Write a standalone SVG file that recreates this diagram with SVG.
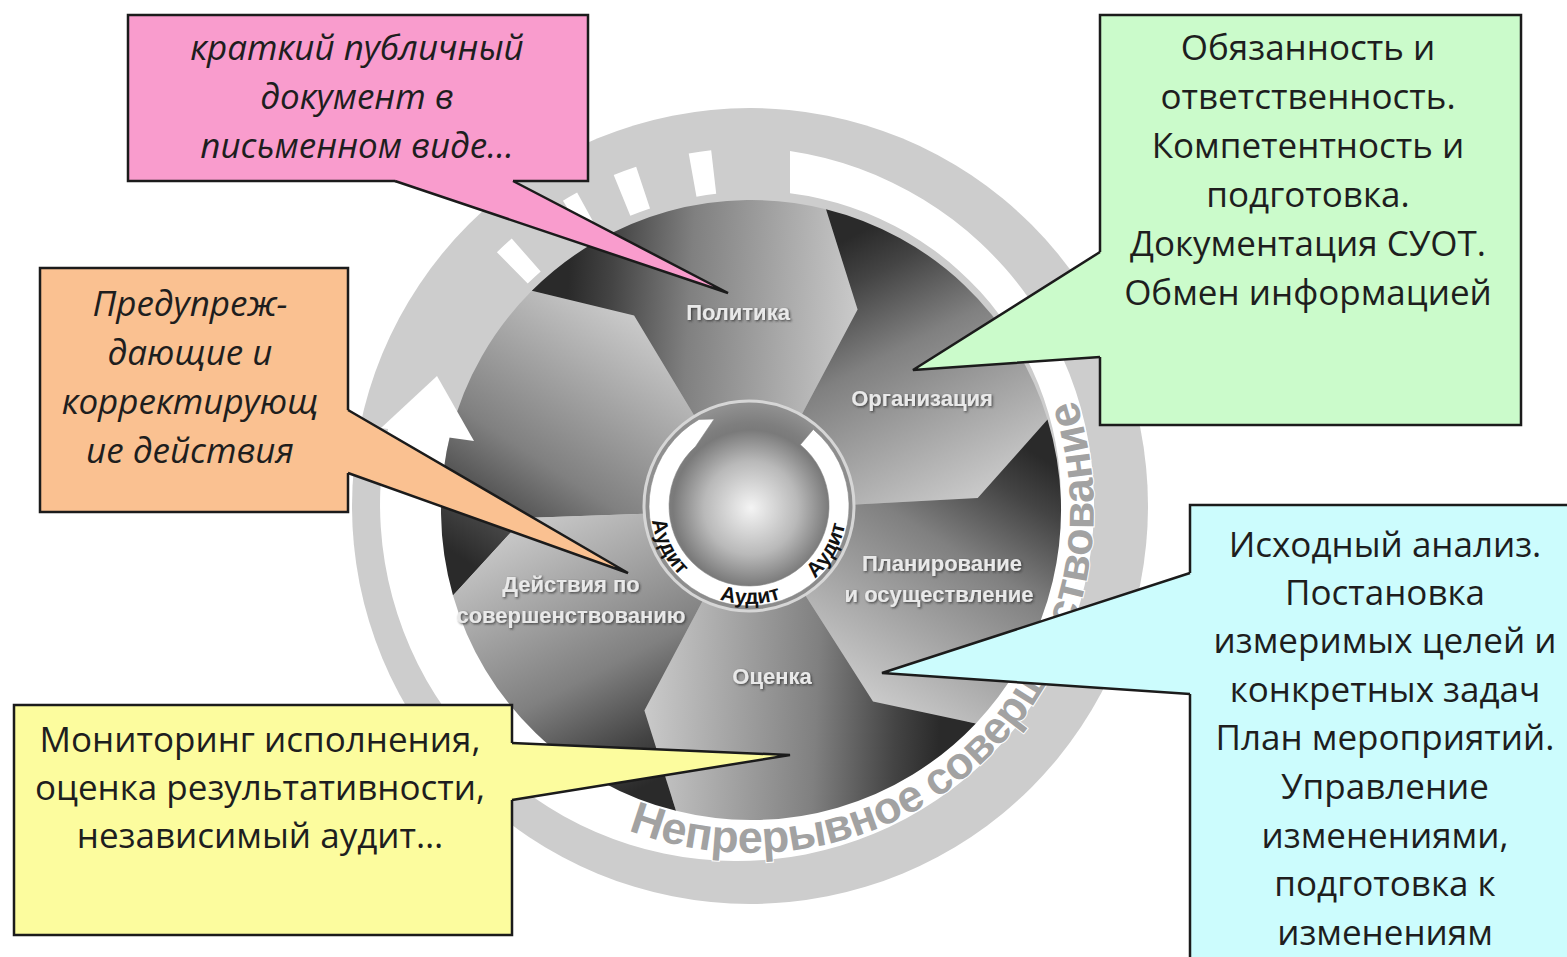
<svg xmlns="http://www.w3.org/2000/svg" xmlns:xlink="http://www.w3.org/1999/xlink" width="1567" height="957" viewBox="0 0 1567 957">
<style>
.box{stroke:#1b1b1b;stroke-width:2.5}
.pl{fill:none;stroke:#1b1b1b;stroke-width:2.5;stroke-linejoin:miter}
.ct{font-family:"Open Sans","Noto Sans","DejaVu Sans",sans-serif;font-size:35px;fill:#1e1e1e;text-anchor:middle}
.it{font-style:italic}
.lbl{font-family:"Liberation Sans",Arial,sans-serif;font-weight:bold;font-size:22px;fill:#e9e9e9;text-anchor:middle;filter:url(#sh)}
.aud{font-family:"Liberation Sans",Arial,sans-serif;font-weight:bold;font-size:21px;fill:#111;text-anchor:middle}
.rt{font-family:"Liberation Sans",Arial,sans-serif;font-weight:bold;font-size:45px;fill:#a2a2a2;stroke:#fff;stroke-width:2;paint-order:stroke}
.dash{fill:none;stroke:#fff;stroke-width:44}
</style>
<defs>
<linearGradient id="gs">
<stop offset="0" stop-color="#2a2a2a"/>
<stop offset=".15" stop-color="#444"/>
<stop offset=".42" stop-color="#808080"/>
<stop offset=".72" stop-color="#a6a6a6"/>
<stop offset="1" stop-color="#cacaca"/>
</linearGradient>
<linearGradient id="gU" xlink:href="#gs" gradientUnits="userSpaceOnUse" x1="471.2" y1="564.4" x2="634.1" y2="315.4"/>
<linearGradient id="gP" xlink:href="#gs" gradientUnits="userSpaceOnUse" x1="567.8" y1="291.7" x2="857.6" y2="309.6"/>
<linearGradient id="gO" xlink:href="#gs" gradientUnits="userSpaceOnUse" x1="843.8" y1="240.5" x2="977.7" y2="498.1"/>
<linearGradient id="gPl" xlink:href="#gs" gradientUnits="userSpaceOnUse" x1="1029.8" y1="450.7" x2="873.0" y2="701.5"/>
<linearGradient id="gOc" xlink:href="#gs" gradientUnits="userSpaceOnUse" x1="939.8" y1="723.5" x2="644.4" y2="710.4"/>
<linearGradient id="gD" xlink:href="#gs" gradientUnits="userSpaceOnUse" x1="658.2" y1="779.5" x2="524.1" y2="517.9"/>
<radialGradient id="gC" gradientUnits="userSpaceOnUse" cx="751" cy="508" r="104">
<stop offset="0" stop-color="#f4f4f4"/>
<stop offset=".45" stop-color="#b9b9b9"/>
<stop offset=".75" stop-color="#7a7a7a"/>
<stop offset=".82" stop-color="#7e7e7e"/>
<stop offset="1" stop-color="#909090"/>
</radialGradient>
<filter id="sh" x="-10%" y="-30%" width="120%" height="160%">
<feDropShadow dx="1.2" dy="1.2" stdDeviation="0.8" flood-color="#2a2a2a" flood-opacity="0.8"/>
</filter>
<path id="ringPath" d="M554.3,791.0 A343,343 0 0 0 993.5,267.5"/>
<path id="audPath" d="M651,506 A98,98 0 0 0 847,506"/>
</defs>
<rect width="1567" height="957" fill="#fff"/>

<g id="ring">
<circle cx="750" cy="506" r="398" fill="#cdcdcd"/>
<path d="M790,151 A357,357 0 1 1 389.9,420.7 L453.5,420 A309,309 0 1 0 790,193.3 Z" fill="#fff"/>
<path class="dash" d="M512.3,267.9 A340,340 0 0 1 526.2,255.0"/>
<path class="dash" d="M574.4,219.5 A340,340 0 0 1 587.7,211.8"/>
<path class="dash" d="M622.0,195.4 A340,340 0 0 1 643.1,187.6"/>
<path class="dash" d="M692.6,175.1 A340,340 0 0 1 713.7,172.0"/>
</g>

<g id="wheel">
<g id="seg-unlabeled"><path d="M751,510 L524.1,517.9 L453.0,595.4 A310,310 0 0 1 531.8,290.8 L634.1,315.4 Z" fill="url(#gU)"/></g>
<g id="seg-politika"><path d="M751,510 L634.1,315.4 L531.8,290.8 A310,310 0 0 1 826.0,209.2 L857.6,309.6 Z" fill="url(#gP)"/>
<text class="lbl" x="738" y="320">Политика</text></g>
<g id="seg-organizaciya"><path d="M751,510 L857.6,309.6 L826.0,209.2 A310,310 0 0 1 1047.5,419.4 L977.7,498.1 Z" fill="url(#gO)"/>
<text class="lbl" x="922" y="406">Организация</text></g>
<g id="seg-planirovanie"><path d="M751,510 L977.7,498.1 L1047.5,419.4 A310,310 0 0 1 975.9,723.4 L873.0,701.5 Z" fill="url(#gPl)"/>
<text class="lbl" x="942" y="571">Планирование</text>
<text class="lbl" x="939" y="602">и осуществление</text></g>
<g id="seg-ocenka"><path d="M751,510 L873.0,701.5 L975.9,723.4 A310,310 0 0 1 676.0,810.8 L644.4,710.4 Z" fill="url(#gOc)"/>
<text class="lbl" x="772" y="684">Оценка</text></g>
<g id="seg-deystviya"><path d="M751,510 L644.4,710.4 L676.0,810.8 A310,310 0 0 1 453.0,595.4 L524.1,517.9 Z" fill="url(#gD)"/>
<text class="lbl" x="571" y="592">Действия по</text>
<text class="lbl" x="571" y="623">совершенствованию</text></g>
</g>

<g id="ring-label">
<text class="rt"><textPath xlink:href="#ringPath" startOffset="83.8">Непрерывное</textPath></text>
<text class="rt"><textPath xlink:href="#ringPath" startOffset="404.5">совершенствование</textPath></text>
<polygon points="381,428 437,376 474,441" fill="#fff"/>
</g>

<g id="center">
<circle cx="749" cy="506" r="105" fill="url(#gC)" stroke="#d6d6d6" stroke-width="3"/>
<path d="M813.3,429.4 A100,100 0 1 1 699.0,419.4 L714.2,419.0 L695.5,446.6 A80,80 0 1 0 800.4,444.7 Z" fill="#fff" stroke="#8a8a8a" stroke-width="0.6"/>
<text class="aud"><textPath xlink:href="#audPath" startOffset="46">Аудит</textPath></text>
<text class="aud"><textPath xlink:href="#audPath" startOffset="155">Аудит</textPath></text>
<text class="aud"><textPath xlink:href="#audPath" startOffset="257">Аудит</textPath></text>
</g>

<g id="callout-policy">
<rect class="box" x="128" y="15" width="460" height="166" fill="#f99ccd"/>
<text class="ct it" x="357" y="60">краткий публичный</text>
<text class="ct it" x="357" y="109">документ в</text>
<text class="ct it" x="357" y="158">письменном виде…</text>
</g>
<g id="callout-actions">
<rect class="box" x="40" y="268" width="308" height="244" fill="#fac191"/>
<text class="ct it" x="190" y="316">Предупреж-</text>
<text class="ct it" x="190" y="365">дающие и</text>
<text class="ct it" x="190" y="414">корректирующ</text>
<text class="ct it" x="190" y="463">ие действия</text>
</g>
<g id="callout-organization">
<rect class="box" x="1100" y="15" width="421" height="410" fill="#cbfbcb"/>
<text class="ct" x="1308" y="60">Обязанность и</text>
<text class="ct" x="1308" y="109">ответственность.</text>
<text class="ct" x="1308" y="158">Компетентность и</text>
<text class="ct" x="1308" y="207">подготовка.</text>
<text class="ct" x="1308" y="256">Документация СУОТ.</text>
<text class="ct" x="1308" y="305">Обмен информацией</text>
</g>
<g id="callout-planning">
<rect class="box" x="1190" y="505" width="400" height="470" fill="#ccfcfd"/>
<text class="ct" x="1385" y="557">Исходный анализ.</text>
<text class="ct" x="1385" y="605">Постановка</text>
<text class="ct" x="1385" y="653">измеримых целей и</text>
<text class="ct" x="1385" y="702">конкретных задач</text>
<text class="ct" x="1385" y="750">План мероприятий.</text>
<text class="ct" x="1385" y="799">Управление</text>
<text class="ct" x="1385" y="848">изменениями,</text>
<text class="ct" x="1385" y="896">подготовка к</text>
<text class="ct" x="1385" y="945">изменениям</text>
</g>
<g id="callout-evaluation">
<rect class="box" x="14" y="705" width="498" height="230" fill="#fcfc9e"/>
<text class="ct" x="260" y="752">Мониторинг исполнения,</text>
<text class="ct" x="260" y="800">оценка результативности,</text>
<text class="ct" x="260" y="848">независимый аудит…</text>
</g>

<g id="connectors">
<polygon points="395,177 395,181 728,293 513,181 513,177" fill="#f99ccd"/>
<polyline class="pl" points="395,181 728,293 513,181"/>
<polygon points="344,410 348,410 628,573 348,473 344,473" fill="#fac191"/>
<polyline class="pl" points="348,410 628,573 348,473"/>
<polygon points="1104,252 1100,252 913,370 1100,357 1104,357" fill="#cbfbcb"/>
<polyline class="pl" points="1100,252 913,370 1100,357"/>
<polygon points="1194,573 1190,573 882,673 1190,694 1194,694" fill="#ccfcfd"/>
<polyline class="pl" points="1190,573 882,673 1190,694"/>
<polygon points="508,743 512,743 790,755 512,800 508,800" fill="#fcfc9e"/>
<polyline class="pl" points="512,743 790,755 512,800"/>
</g>
</svg>
